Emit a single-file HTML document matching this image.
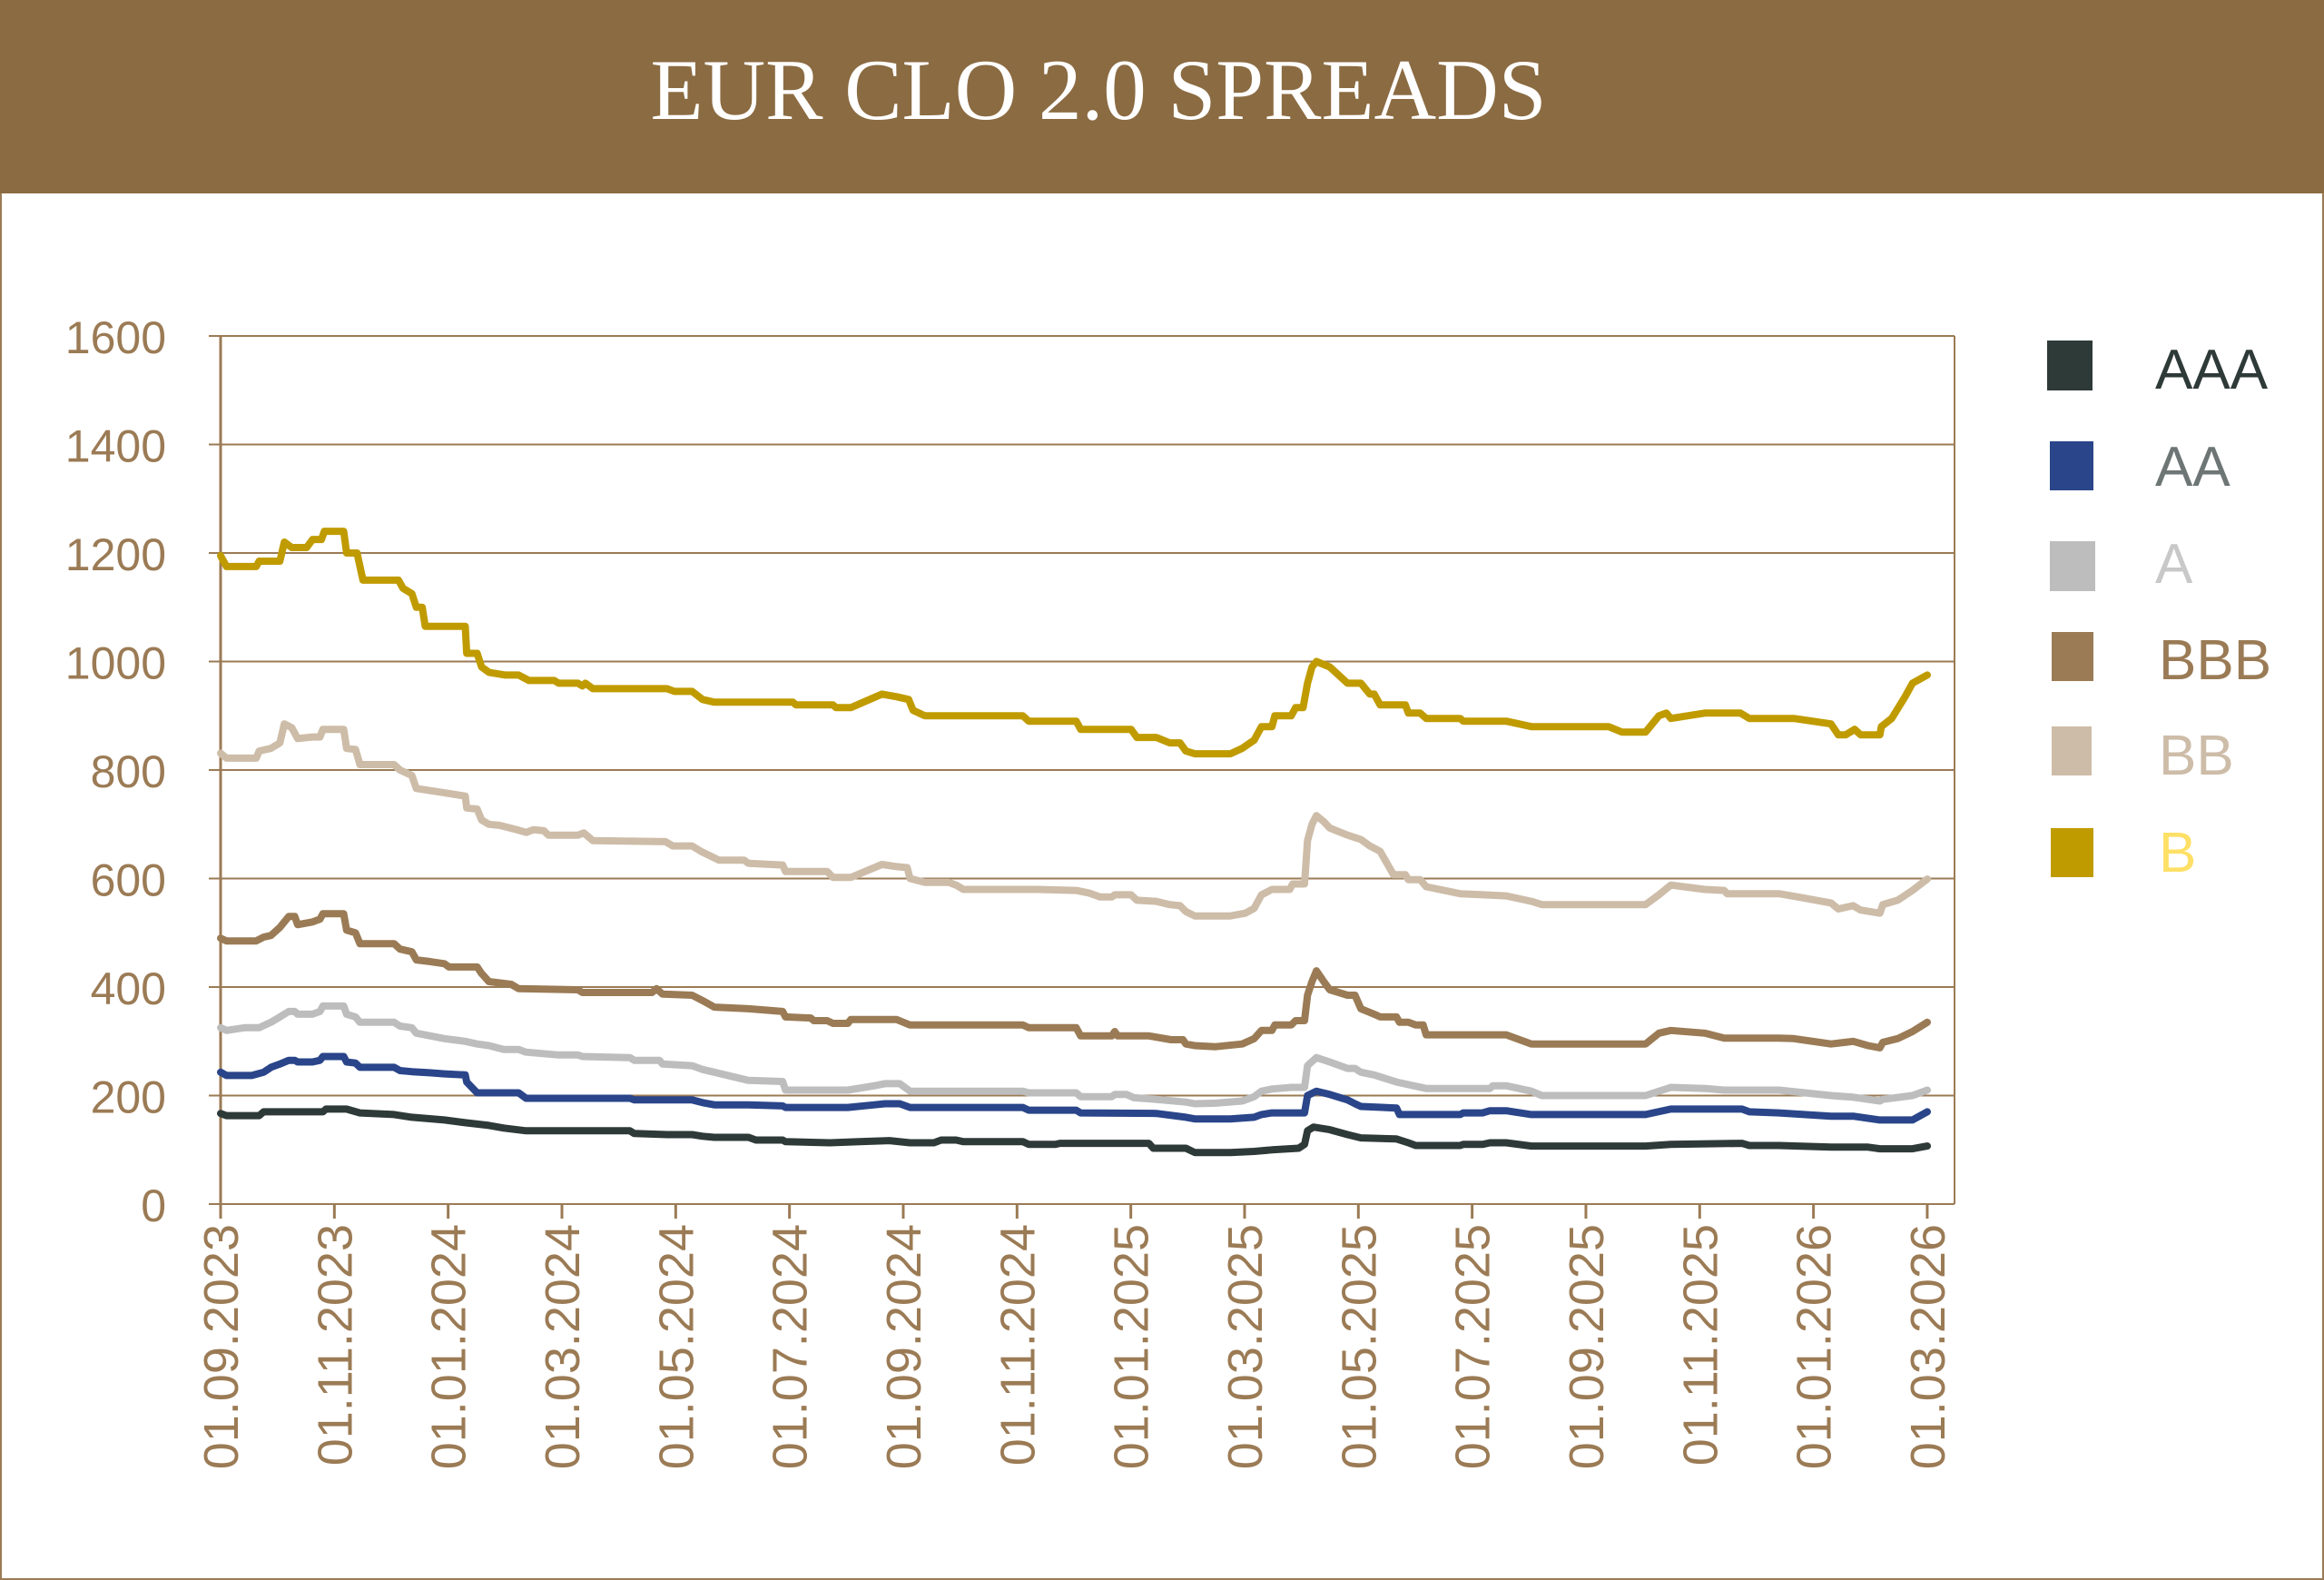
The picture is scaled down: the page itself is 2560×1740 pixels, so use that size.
<!DOCTYPE html>
<html><head><meta charset="utf-8"><style>
html,body{margin:0;padding:0;background:#fff;}
body{width:2560px;height:1740px;overflow:hidden;position:relative;}
</style></head><body>
<svg id="s" width="2560" height="1740" xmlns="http://www.w3.org/2000/svg" style="position:absolute;left:0;top:0">
<rect x="1" y="1" width="2558" height="1738" fill="#fff" stroke="#9B7B55" stroke-width="2"/>
<rect x="0" y="0" width="2560" height="213" fill="#8B6B42"/>
<text x="1210" y="131" text-anchor="middle" font-family="Liberation Serif, serif" font-size="95" fill="#fff">EUR CLO 2.0 SPREADS</text>
<g id="grid"></g>
<g id="lines" fill="none" stroke-width="8" stroke-linejoin="round" stroke-linecap="round"></g>
<g font-family="Liberation Sans, sans-serif" font-size="62">
<rect x="2255" y="375" width="50" height="55" fill="#2E3A38"/><text x="2374" y="428" fill="#2E3A38">AAA</text>
<rect x="2258" y="486" width="48" height="54" fill="#2A4589"/><text x="2374" y="535" fill="#6E7575">AA</text>
<rect x="2258" y="596" width="50" height="55" fill="#BDBDBD"/><text x="2374" y="642" fill="#C8C8C8">A</text>
<rect x="2260" y="696" width="46" height="54" fill="#9A7B55"/><text x="2378" y="748" fill="#9A7B55">BBB</text>
<rect x="2260" y="800" width="44" height="54" fill="#CDBCA8"/><text x="2378" y="853" fill="#CDBCA8">BB</text>
<rect x="2259" y="912" width="47" height="54" fill="#C09B00"/><text x="2378" y="960" fill="#FFE066">B</text>
</g>
</svg>
<script>
var NS="http://www.w3.org/2000/svg";
function el(t,a,p,txt){var e=document.createElementNS(NS,t);for(var k in a)e.setAttribute(k,a[k]);if(txt!==undefined)e.textContent=txt;p.appendChild(e);return e;}
var g=document.getElementById('grid'),L=document.getElementById('lines');
var C="#9B7B55";
function Y(v){return 1326-v*0.5975;}
function X(d){return 243+(d-149)*1.6334;}
for(var v=0;v<=1600;v+=200){var y=Y(v);el('line',{x1:230,y1:y,x2:2153,y2:y,stroke:C,'stroke-width':2},g);
el('text',{x:183,y:y+19,'text-anchor':'end','font-family':'Liberation Sans, sans-serif','font-size':50,fill:C},g,String(v));}
el('line',{x1:243,y1:370,x2:243,y2:1342,stroke:C,'stroke-width':3},g);
el('line',{x1:2153,y1:370,x2:2153,y2:1326,stroke:C,'stroke-width':2},g);
var labs=["01.09.2023","01.11.2023","01.01.2024","01.03.2024","01.05.2024","01.07.2024","01.09.2024","01.11.2024","01.01.2025","01.03.2025","01.05.2025","01.07.2025","01.09.2025","01.11.2025","01.01.2026","01.03.2026"];
for(var i=0;i<16;i++){var x=243+i*125.33;el('line',{x1:x,y1:1326,x2:x,y2:1342,stroke:C,'stroke-width':3},g);
el('text',{x:0,y:0,transform:'translate('+(x+19)+',1348) rotate(-90)','text-anchor':'end','font-family':'Liberation Sans, sans-serif','font-size':54,fill:C},g,labs[i]);}
var S={
"#2E3A38":[149,167,153,163,175,163,178,170,218,170,220,175,234,175,243,168,266,165,278,160,300,155,314,150,330,145,340,140,355,135,425,135,428,130,450,128,467,128,474,125,482,123,505,123,510,118,528,118,530,115,560,113,580,115,600,117,614,113,630,113,635,118,645,118,650,115,690,115,694,110,712,110,715,112,775,112,778,103,800,103,806,95,830,95,846,97,858,100,876,103,880,110,882,135,886,142,897,137,909,128,918,122,942,120,950,113,955,108,985,108,987,110,1000,110,1005,113,1016,113,1033,107,1110,107,1127,110,1175,112,1180,108,1200,108,1235,105,1260,105,1268,102,1290,102,1300,107],
"#2A4589":[149,243,153,237,170,237,178,243,183,252,189,258,195,265,199,265,201,262,211,262,216,265,218,272,232,272,234,262,240,260,243,252,266,252,270,246,278,244,290,242,300,240,314,238,315,225,322,205,350,205,355,195,425,195,428,192,467,192,474,187,482,183,505,183,528,181,530,178,572,178,590,183,597,185,607,185,614,178,690,178,694,173,726,173,729,168,780,167,800,160,806,157,830,157,846,160,851,165,858,168,880,168,882,200,888,208,897,202,909,192,914,185,918,180,942,177,944,165,985,165,987,168,1000,168,1005,172,1016,172,1033,165,1110,165,1127,175,1175,175,1180,170,1200,168,1235,162,1250,162,1268,155,1290,155,1300,170],
"#BDBDBD":[149,325,153,320,165,325,175,325,183,335,189,345,195,355,199,355,201,350,211,350,216,355,218,365,232,365,234,350,240,345,243,335,266,335,270,328,278,325,281,315,300,305,314,300,322,295,330,292,340,285,350,285,355,280,376,275,390,275,393,272,425,270,428,265,445,265,447,258,467,255,474,248,482,243,505,228,528,226,530,210,572,210,590,218,597,222,607,222,614,208,690,208,694,205,726,205,729,198,750,198,752,202,760,202,765,196,780,193,800,188,806,185,820,186,838,190,846,198,851,208,858,212,871,215,880,215,882,255,888,270,897,262,909,250,914,250,918,243,927,238,942,225,962,213,1005,213,1007,218,1016,218,1033,208,1040,200,1110,200,1127,215,1150,213,1163,210,1200,210,1235,200,1250,197,1268,190,1270,193,1290,200,1300,210],
"#9A7B55":[149,490,153,485,173,485,178,492,183,495,189,510,195,530,199,530,201,515,211,520,216,525,218,535,232,535,234,505,240,500,243,480,266,480,270,470,278,465,281,450,290,447,300,443,303,437,322,437,325,425,330,410,345,405,350,397,390,395,393,390,440,390,443,397,447,387,467,385,474,375,482,363,505,360,528,355,530,345,547,343,549,338,558,338,562,333,572,333,574,340,605,340,614,330,690,330,694,325,726,325,729,310,750,310,752,318,754,310,775,310,790,303,798,303,800,295,806,292,820,290,838,295,846,305,851,320,858,320,860,330,871,330,874,338,880,338,882,385,885,410,888,430,893,410,897,395,909,385,914,385,918,360,927,350,931,345,942,345,944,335,950,335,955,330,960,330,962,312,1016,312,1033,295,1110,295,1119,315,1127,320,1150,315,1163,306,1200,306,1210,305,1235,295,1250,300,1260,292,1268,288,1270,298,1280,305,1290,318,1300,335],
"#CDBCA8":[149,831,153,822,173,822,175,835,183,840,189,850,192,885,197,878,201,858,211,861,216,861,218,875,232,875,234,840,240,838,243,810,266,810,270,800,278,790,281,766,300,758,314,752,315,730,322,728,325,708,330,700,337,698,350,689,355,685,360,690,367,688,370,680,376,680,390,680,394,684,400,670,449,668,454,660,467,660,473,650,485,634,502,634,505,628,528,625,530,613,558,613,562,602,574,602,595,626,605,622,612,620,614,600,624,593,640,593,645,588,650,580,700,580,726,578,735,573,742,566,750,566,752,570,763,570,767,560,780,558,789,552,796,550,800,539,806,531,830,531,840,536,846,545,851,570,858,580,870,580,872,590,880,590,882,670,885,700,888,716,893,705,897,693,909,680,918,672,924,660,931,650,940,607,948,607,950,598,958,598,962,585,985,572,1016,568,1033,558,1040,552,1110,552,1119,570,1127,588,1150,580,1163,578,1165,572,1200,572,1215,565,1235,555,1240,544,1250,550,1255,542,1268,536,1270,552,1280,560,1290,578,1300,599],
"#C09B00":[149,1195,153,1175,173,1175,175,1185,189,1185,192,1220,197,1210,207,1210,211,1225,217,1225,219,1240,232,1240,234,1200,241,1200,245,1150,269,1150,272,1135,278,1125,281,1100,285,1100,287,1065,314,1065,315,1015,322,1015,325,990,330,980,341,975,350,975,357,965,374,965,377,960,390,960,393,955,395,960,400,950,450,950,455,945,467,945,474,930,482,925,535,925,537,920,562,920,564,915,574,915,595,940,605,935,613,930,616,910,624,900,690,900,694,890,726,890,729,875,763,875,767,860,780,860,789,850,796,850,800,835,806,830,830,830,838,840,846,855,851,880,858,880,860,900,871,900,874,915,879,915,882,960,885,990,888,1000,897,990,909,960,918,960,924,940,927,940,931,920,948,920,950,905,958,905,962,895,985,895,987,890,1016,890,1033,880,1085,880,1094,870,1110,870,1119,900,1124,905,1127,895,1150,905,1174,905,1180,895,1210,895,1235,885,1240,865,1245,865,1251,875,1255,865,1268,865,1269,880,1276,895,1285,935,1290,960,1300,975]
};
for(var c in S){var a=S[c],p=[];for(var i=0;i<a.length;i+=2)p.push(X(a[i]).toFixed(1)+','+Y(a[i+1]).toFixed(1));
el('polyline',{points:p.join(' '),stroke:c},L);}
</script>
</body></html>
